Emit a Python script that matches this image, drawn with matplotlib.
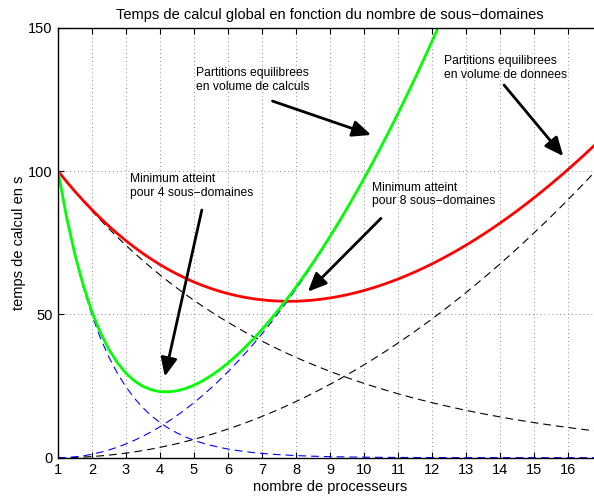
import matplotlib
matplotlib.use("Agg")
import matplotlib.pyplot as plt

plt.rcParams['font.family'] = ['Liberation Sans', 'DejaVu Sans']

# x positions (nombre de processeurs), step 0.25
x = [1 + 0.25 * k for k in range(65)]

# black dashed, decreasing
black_dec = [100.0, 96.32, 92.77, 89.36, 86.07, 82.90, 79.85, 76.91, 74.08, 71.35,
             68.73, 66.20, 63.76, 61.41, 59.16, 56.98, 54.88, 52.86, 50.92, 49.04,
             47.24, 45.50, 43.82, 42.21, 40.66, 39.16, 37.72, 36.33, 34.99, 33.70,
             32.47, 31.27, 30.12, 29.01, 27.94, 26.92, 25.92, 24.97, 24.05, 23.17,
             22.31, 21.49, 20.70, 19.94, 19.20, 18.50, 17.82, 17.16, 16.53, 15.92,
             15.34, 14.77, 14.23, 13.70, 13.20, 12.71, 12.25, 11.80, 11.36, 10.94,
             10.54, 10.15, 9.78, 9.42, 9.07]

# black dashed, increasing
black_inc = [0.0, 0.03, 0.1, 0.23, 0.4, 0.63, 0.9, 1.23, 1.6, 2.03,
             2.5, 3.03, 3.6, 4.23, 4.9, 5.63, 6.4, 7.23, 8.1, 9.03,
             10.0, 11.03, 12.1, 13.23, 14.4, 15.63, 16.9, 18.23, 19.6, 21.03,
             22.5, 24.03, 25.6, 27.23, 28.9, 30.63, 32.4, 34.23, 36.1, 38.03,
             40.0, 42.03, 44.1, 46.23, 48.4, 50.63, 52.9, 55.23, 57.6, 60.03,
             62.5, 65.03, 67.6, 70.23, 72.9, 75.63, 78.4, 81.23, 84.1, 87.03,
             90.0, 93.03, 96.1, 99.23, 102.4]

# red: partitions equilibrees en volume de donnees
red_total = [100.0, 96.35, 92.87, 89.59, 86.47, 83.53, 80.75, 78.14, 75.68, 73.38,
             71.23, 69.23, 67.36, 65.64, 64.06, 62.61, 61.28, 60.09, 59.02, 58.07,
             57.24, 56.53, 55.92, 55.44, 55.06, 54.79, 54.62, 54.56, 54.59, 54.73,
             54.97, 55.30, 55.72, 56.24, 56.84, 57.55, 58.32, 59.20, 60.15, 61.20,
             62.31, 63.52, 64.80, 66.17, 67.60, 69.13, 70.72, 72.39, 74.13, 75.95,
             77.84, 79.80, 81.83, 83.93, 86.10, 88.34, 90.65, 93.03, 95.46, 97.97,
             100.54, 103.18, 105.88, 108.65, 111.47]

# blue dashed, decreasing
blue_dec = [100.0, 83.95, 70.47, 59.16, 49.66, 41.69, 34.99, 29.38, 24.66, 20.70,
            17.38, 14.59, 12.25, 10.28, 8.63, 7.24, 6.08, 5.10, 4.29, 3.60,
            3.02, 2.54, 2.13, 1.79, 1.50, 1.26, 1.06, 0.89, 0.74, 0.63,
            0.52, 0.44, 0.37, 0.31, 0.26, 0.22, 0.18, 0.15, 0.13, 0.11,
            0.09, 0.08, 0.06, 0.05, 0.05, 0.04, 0.03, 0.03, 0.02, 0.02,
            0.02, 0.01, 0.01, 0.01, 0.01, 0.01, 0.01, 0.0, 0.0, 0.0,
            0.0, 0.0, 0.0, 0.0, 0.0]

# blue dashed, increasing
blue_inc = [0.0, 0.08, 0.3, 0.68, 1.2, 1.88, 2.7, 3.68, 4.8, 6.08,
            7.5, 9.08, 10.8, 12.68, 14.7, 16.88, 19.2, 21.68, 24.3, 27.08,
            30.0, 33.08, 36.3, 39.68, 43.2, 46.88, 50.7, 54.68, 58.8, 63.08,
            67.5, 72.08, 76.8, 81.68, 86.7, 91.88, 97.2, 102.68, 108.3, 114.08,
            120.0, 126.08, 132.3, 138.68, 145.2, 151.88, 158.7, 165.68, 172.8, 180.08,
            187.5, 195.08, 202.8, 210.68, 218.7, 226.88, 235.2, 243.68, 252.3, 261.08,
            270.0, 279.08, 288.3, 297.68, 307.2]

# green: partitions equilibrees en volume de calculs
green_total = [100.0, 84.03, 70.77, 59.84, 50.86, 43.57, 37.69, 33.06, 29.46, 26.78,
               24.88, 23.67, 23.05, 22.96, 23.33, 24.12, 25.28, 26.78, 28.59, 30.68,
               33.02, 35.62, 38.43, 41.47, 44.70, 48.14, 51.76, 55.57, 59.54, 63.71,
               68.02, 72.52, 77.17, 81.99, 86.96, 92.10, 97.38, 102.83, 108.43, 114.19,
               120.09, 126.16, 132.36, 138.73, 145.25, 151.92, 158.73, 165.7, 172.8, 180.1,
               187.5, 195.1, 202.8, 210.7, 218.7, 226.9, 235.2, 243.7, 252.3, 261.1,
               270.0, 279.1, 288.3, 297.7, 307.2]

x_ticks = list(range(1, 17))
y_ticks = [0, 50, 100, 150]

fig = plt.figure(figsize=(5.94, 4.97), dpi=100)
ax = fig.add_axes([58 / 594, 39.3 / 497, 544 / 594, 430 / 497])

dash = (7, 4.5)
ax.plot(x, black_dec, color='k', lw=0.8, dashes=dash)
ax.plot(x, black_inc, color='k', lw=0.8, dashes=dash)
ax.plot(x, blue_dec, color='b', lw=0.8, dashes=dash)
ax.plot(x, blue_inc, color='b', lw=0.8, dashes=dash)
ax.plot(x, red_total, color='r', lw=2.0)
ax.plot(x, green_total, color=(0, 1, 0), lw=2.0)

ax.set_xlim(1, 17)
ax.set_ylim(0, 150)
ax.set_xticks(x_ticks)
ax.set_yticks(y_ticks)
ax.grid(True, color='#8c8c8c', linestyle=(0, (1, 3)), lw=0.7)
ax.tick_params(direction='in', top=True, right=False, length=4, labelsize=10.5, pad=4)
ax.spines['right'].set_visible(False)
for s in ['left', 'bottom', 'top']:
    ax.spines[s].set_linewidth(1.0)

ax.set_title('Temps de calcul global en fonction du nombre de sous\u2212domaines', fontsize=10.5)
ax.set_xlabel('nombre de processeurs', fontsize=10.5, labelpad=2)
ax.set_ylabel('temps de calcul en s', fontsize=10.5, labelpad=1)

fs = 8.7
ax.text(5.07, 131.8, 'Partitions equilibrees\nen volume de calculs', fontsize=fs,
        ha='left', va='center', linespacing=1.15)
ax.text(12.34, 135.9, 'Partitions equilibrees\nen volume de donnees', fontsize=fs,
        ha='left', va='center', linespacing=1.15)
ax.text(3.11, 94.8, 'Minimum atteint\npour 4 sous\u2212domaines', fontsize=fs,
        ha='left', va='center', linespacing=1.15)
ax.text(10.25, 91.9, 'Minimum atteint\npour 8 sous\u2212domaines', fontsize=fs,
        ha='left', va='center', linespacing=1.15)

arrows = [((7.31, 124.4), (10.21, 112.6)),
          ((14.12, 130.0), (15.86, 105.2)),
          ((5.23, 86.4), (4.14, 28.3)),
          ((10.5, 83.5), (8.35, 57.9))]
for start, end in arrows:
    ax.annotate('', xy=end, xytext=start,
                arrowprops=dict(arrowstyle='-|>,head_length=0.75,head_width=0.33',
                                color='k', lw=2, mutation_scale=15,
                                shrinkA=0, shrinkB=0))

fig.savefig('out.png', dpi=100)
